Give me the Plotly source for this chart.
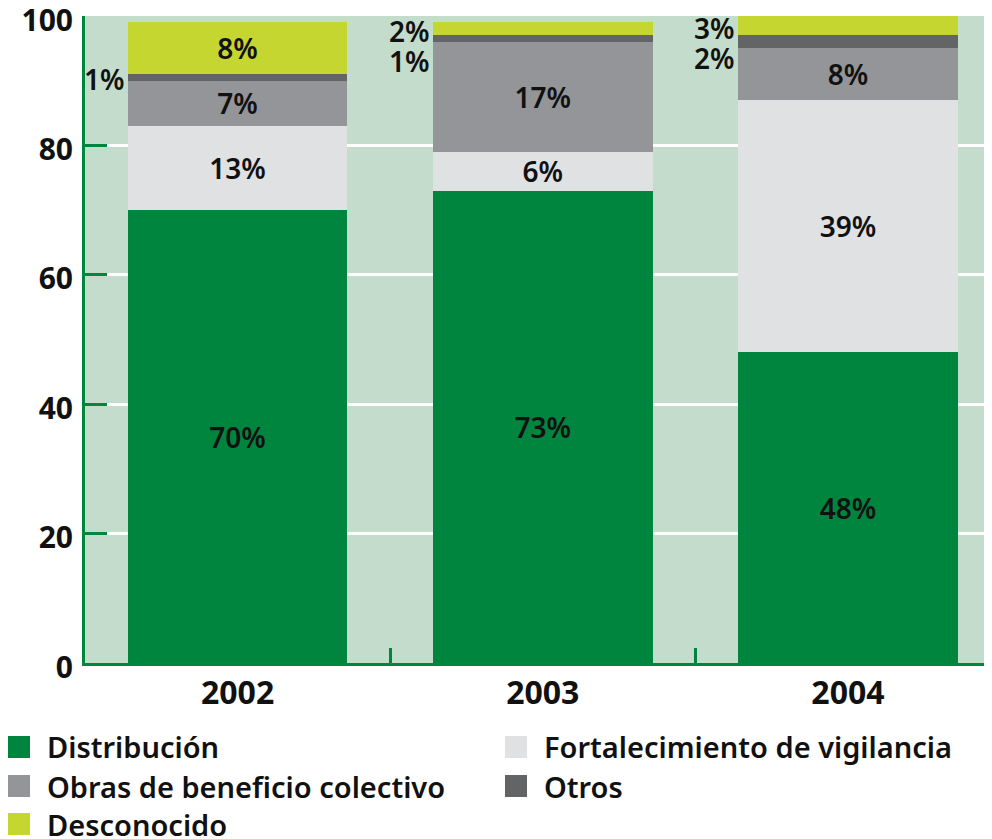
import plotly.graph_objects as go

# ---- data ----
years = ["2002", "2003", "2004"]
series_names = ["Distribución", "Fortalecimiento de vigilancia",
                "Obras de beneficio colectivo", "Otros", "Desconocido"]
distribucion = [70, 73, 48]
fortalecimiento = [13, 6, 39]
obras = [7, 17, 8]
otros = [1, 1, 2]
desconocido = [8, 2, 3]
y_ticks = [0, 20, 40, 60, 80, 100]

series_values = [distribucion, fortalecimiento, obras, otros, desconocido]
colors = ["#00853f", "#e0e1e3", "#939598", "#636466", "#c4d62f"]

FONT = "Noto Sans"
AXIS_GREEN = "#00853f"
PAGE_OFF = 8  # browser body margin
W, H = 992 - PAGE_OFF, 839 - PAGE_OFF
M_L, M_R, M_T = 85 - PAGE_OFF, 0, 16 - PAGE_OFF
PLOT_BOTTOM = 663 - PAGE_OFF
M_B = H - PLOT_BOTTOM
PLOT_W = W - M_L - M_R
PLOT_H = PLOT_BOTTOM - M_T
BAR_W = 0.72
INSIDE_MIN = 5
LABEL_FONT = dict(family=FONT, size=28, color="#111111", weight=600)

fig = go.Figure()
outside = []  # (bar index, cumulative mid value, label)
bases = [0] * len(years)
for name, vals, col in zip(series_names, series_values, colors):
    texts = []
    for i, v in enumerate(vals):
        if v >= INSIDE_MIN:
            texts.append(f"{v}%")
        else:
            texts.append("")
            outside.append((i, bases[i] + v / 2, f"{v}%"))
    fig.add_trace(go.Bar(
        x=years, y=vals, name=name, marker=dict(color=col, line=dict(width=0)),
        text=texts, textposition="inside", insidetextanchor="middle",
        textangle=0, textfont=LABEL_FONT,
        constraintext="none", showlegend=False, hoverinfo="name+y",
    ))
    bases = [b + v for b, v in zip(bases, vals)]

# outside labels, stacked from top downward to avoid overlap
px_per_unit = PLOT_H / (y_ticks[-1] - y_ticks[0])
GAP = 30
for i in range(len(years)):
    labs = sorted([o for o in outside if o[0] == i], key=lambda o: -o[1])
    prev_py = None
    for _, mid, lab in labs:
        py = (y_ticks[-1] - mid) * px_per_unit
        shift = 0
        if prev_py is not None and py - prev_py < GAP:
            shift = GAP - (py - prev_py)
        fig.add_annotation(
            x=i - BAR_W / 2, y=mid, xref="x", yref="y", text=lab, showarrow=False,
            xanchor="right", yanchor="middle", xshift=-1, yshift=-shift - 2,
            font=LABEL_FONT,
        )
        prev_py = py + shift

# manual legend (large square swatches); positions in page pixels
legend_pos = [(8, 747), (505, 747), (8, 786), (505, 786), (8, 824)]
SW = 22
for (lx, ly), name, col in zip(legend_pos, series_names, colors):
    lx -= PAGE_OFF
    ly -= PAGE_OFF
    x0 = (lx - M_L) / PLOT_W
    x1 = (lx + SW - M_L) / PLOT_W
    y0 = (PLOT_BOTTOM - (ly + SW / 2)) / PLOT_H
    y1 = (PLOT_BOTTOM - (ly - SW / 2)) / PLOT_H
    fig.add_shape(type="rect", xref="paper", yref="paper", x0=x0, x1=x1, y0=y0, y1=y1,
                  fillcolor=col, line=dict(width=0))
    fig.add_annotation(
        x=(lx + SW + 15 - M_L) / PLOT_W, y=(PLOT_BOTTOM - ly) / PLOT_H,
        xref="paper", yref="paper", text=name, showarrow=False,
        xanchor="left", yanchor="middle",
        font=dict(family=FONT, size=29, color="#111111", weight=600),
    )

fig.update_layout(
    width=W, height=H, barmode="stack", bargap=1 - BAR_W,
    margin=dict(l=M_L, r=M_R, t=M_T, b=M_B, autoexpand=False),
    paper_bgcolor="white", plot_bgcolor="#c4dccb",
    font=dict(family=FONT, color="#111111"),
    showlegend=False,
)
fig.update_xaxes(
    type="category", range=[-0.5, 2.472], tickson="boundaries",
    ticks="inside", ticklen=15, tickwidth=3, tickcolor=AXIS_GREEN,
    showline=True, linecolor=AXIS_GREEN, linewidth=3,
    showgrid=False, automargin=False,
    tickfont=dict(family=FONT, size=32, color="#111111", weight=700),
)
fig.update_yaxes(
    range=[y_ticks[0], y_ticks[-1]], tickvals=y_ticks,
    ticks="inside", ticklen=22, tickwidth=3, tickcolor=AXIS_GREEN,
    showline=True, linecolor=AXIS_GREEN, linewidth=3,
    showgrid=True, gridcolor="white", gridwidth=3, zeroline=False,
    automargin=False,
    ticklabelstandoff=3, ticklabeloverflow="allow", ticklabelshift=4,
    tickfont=dict(family=FONT, size=30, color="#111111", weight=700),
)

fig.write_html("out.html")
